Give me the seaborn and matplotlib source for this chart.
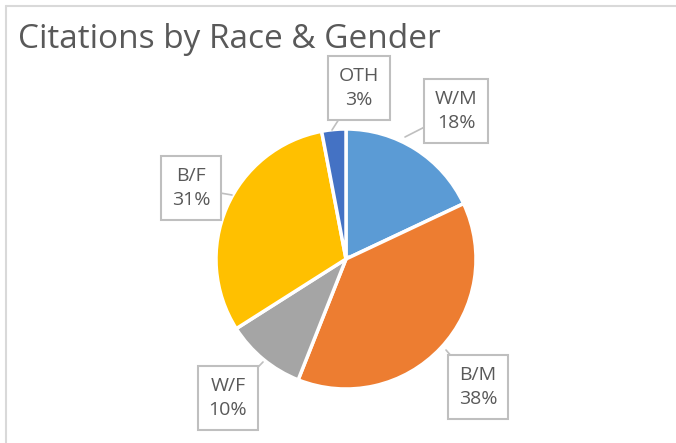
import matplotlib.pyplot as plt
import seaborn as sns

# chart data
groups = ['W/M', 'B/M', 'W/F', 'B/F', 'OTH']
shares = [18, 38, 10, 31, 3]
colors = ['#5B9BD5', '#ED7D31', '#A5A5A5', '#FFC000', '#4472C4']

# label box centres (pixel coords, y from top)
label_pos = [(456, 111), (478, 387), (228, 398), (191, 188), (359, 88)]
# where the callout pointer touches the slice
tip_pos = [(405, 137), (446, 350), (263, 362), (232, 195), (332, 130)]

sns.set_theme(style='white')
plt.rcParams['font.family'] = ['Open Sans', 'DejaVu Sans']

W, H = 676, 443
fig = plt.figure(figsize=(W / 100, H / 100), dpi=100)
ax = fig.add_axes([0, 0, 1, 1])

cx, cy, r = 346, H - 259, 130
ax.pie(shares, colors=colors, startangle=90, counterclock=False,
       center=(cx, cy), radius=r, frame=True,
       wedgeprops=dict(edgecolor='white', linewidth=2.5))
ax.set_xlim(0, W)
ax.set_ylim(0, H)
ax.set_aspect('equal')
ax.axis('off')

# chart border (only top and left visible in the crop)
ax.plot([6, 6], [0, H - 6], color='#D9D9D9', lw=1.5)
ax.plot([6, W], [H - 6, H - 6], color='#D9D9D9', lw=1.5)

ax.text(18, H - 39, 'Citations by Race & Gender', fontsize=24, color='#595959',
        va='center', ha='left')

for g, s, (lx, ly), (tx, ty) in zip(groups, shares, label_pos, tip_pos):
    ax.plot([lx, tx], [H - ly, H - ty], color='#BFBFBF', lw=1.2, zorder=3)
    ax.text(lx, H - ly, f'{g}\n{s}%', fontsize=14, color='#595959',
            ha='center', va='center', linespacing=1.45, zorder=4,
            bbox=dict(boxstyle='square,pad=0.55', fc='white', ec='#BFBFBF', lw=1.5))

fig.savefig('out.png', dpi=100)
